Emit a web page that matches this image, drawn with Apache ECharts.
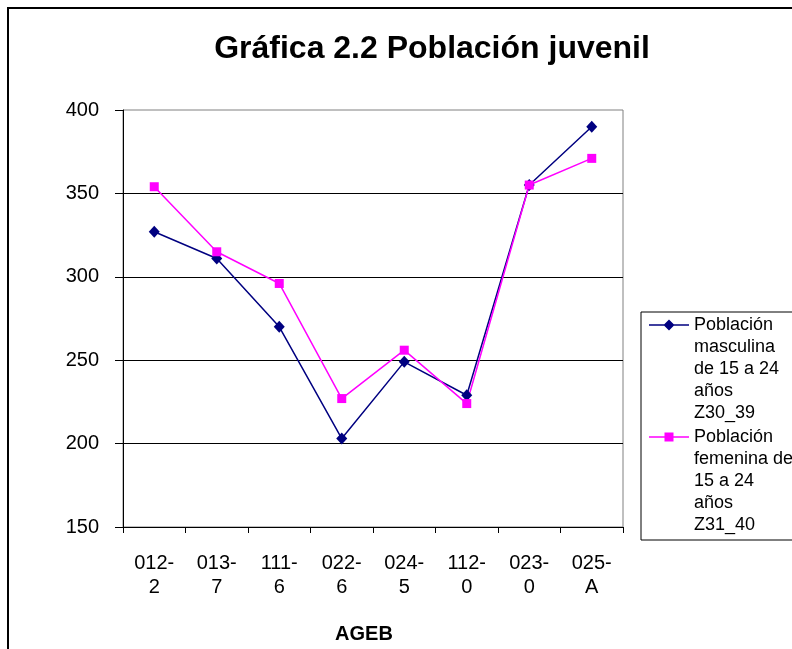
<!DOCTYPE html>
<html>
<head>
<meta charset="utf-8">
<script src="https://cdn.jsdelivr.net/npm/echarts@6/dist/echarts.min.js"></script>
<style>html,body{margin:0;padding:0;background:#fff}#c{width:792px;height:649px}</style>
</head>
<body>
<div id="c"></div>
<script>
var categories = ['012-\n2', '013-\n7', '111-\n6', '022-\n6', '024-\n5', '112-\n0', '023-\n0', '025-\nA'];
var masculina = [327, 311, 270, 203, 249, 229, 355, 390];
var femenina = [354, 315, 296, 227, 256, 224, 355, 371];
var seriesNames = ['Población\nmasculina\nde 15 a 24\naños\nZ30_39', 'Población\nfemenina de\n15 a 24\naños\nZ31_40'];
var yTicks = [150, 200, 250, 300, 350, 400];

var FONT = '"Liberation Sans", Arial, sans-serif';
var iconMasc = 'path://M0,0 M0,10.25 L40,10.25 L40,11.75 L0,11.75 Z M20,5.5 L25.5,11 L20,16.5 L14.5,11 Z M0,110';
var iconFem = 'path://M0,0 M0,10.25 L40,10.25 L40,11.75 L0,11.75 Z M15.5,6.5 L24.5,6.5 L24.5,15.5 L15.5,15.5 Z M0,110';

var chart = echarts.init(document.getElementById('c'), null, {renderer: 'canvas'});
chart.setOption({
  animation: false,
  backgroundColor: '#fff',
  title: [{
    text: 'Gráfica 2.2 Población juvenil',
    left: 427, top: 28, textAlign: 'center',
    textStyle: {fontFamily: FONT, fontSize: 32, fontWeight: 'bold', color: '#000'}
  }, {
    text: 'AGEB',
    left: 359, top: 619, textAlign: 'center',
    textStyle: {fontFamily: FONT, fontSize: 20, fontWeight: 'bold', color: '#000'}
  }],
  graphic: [{
    type: 'rect', shape: {x: 8, y: 8, width: 820, height: 700},
    style: {fill: 'none', stroke: '#000', lineWidth: 2}, silent: true
  }],
  legend: {
    orient: 'vertical',
    left: 641, top: 312,
    padding: [2, 30, 4, 8],
    itemGap: 2,
    itemWidth: 40, itemHeight: 110,
    borderColor: '#000', borderWidth: 1,
    backgroundColor: '#fff',
    textStyle: {fontFamily: FONT, fontSize: 18, lineHeight: 22, color: '#000'},
    data: [{name: seriesNames[0], icon: iconMasc}, {name: seriesNames[1], icon: iconFem}],
    selectedMode: false
  },
  grid: {left: 123, top: 110, width: 500, height: 417, show: true, borderColor: '#808080', borderWidth: 1, containLabel: false},
  xAxis: {
    type: 'category',
    data: categories,
    boundaryGap: true,
    axisLine: {lineStyle: {color: '#000', width: 1}},
    axisTick: {show: true, length: 6, lineStyle: {color: '#000'}},
    axisLabel: {fontFamily: FONT, fontSize: 20, lineHeight: 24, color: '#000', margin: 24, interval: 0},
    splitLine: {show: false}
  },
  yAxis: {
    type: 'value',
    min: 150, max: 400, interval: 50,
    axisLine: {show: true, lineStyle: {color: '#000', width: 1}},
    axisTick: {show: true, length: 8, lineStyle: {color: '#000'}},
    axisLabel: {fontFamily: FONT, fontSize: 20, color: '#000', margin: 24},
    splitLine: {show: true, showMinLine: false, showMaxLine: false, lineStyle: {color: '#000', width: 1}}
  },
  series: [{
    name: seriesNames[0], type: 'line', data: masculina,
    symbol: 'diamond', symbolSize: [11, 12],
    lineStyle: {color: '#000080', width: 1.5},
    itemStyle: {color: '#000080'}
  }, {
    name: seriesNames[1], type: 'line', data: femenina,
    symbol: 'rect', symbolSize: 9,
    lineStyle: {color: '#FF00FF', width: 1.5},
    itemStyle: {color: '#FF00FF'}
  }]
});
</script>
</body>
</html>
